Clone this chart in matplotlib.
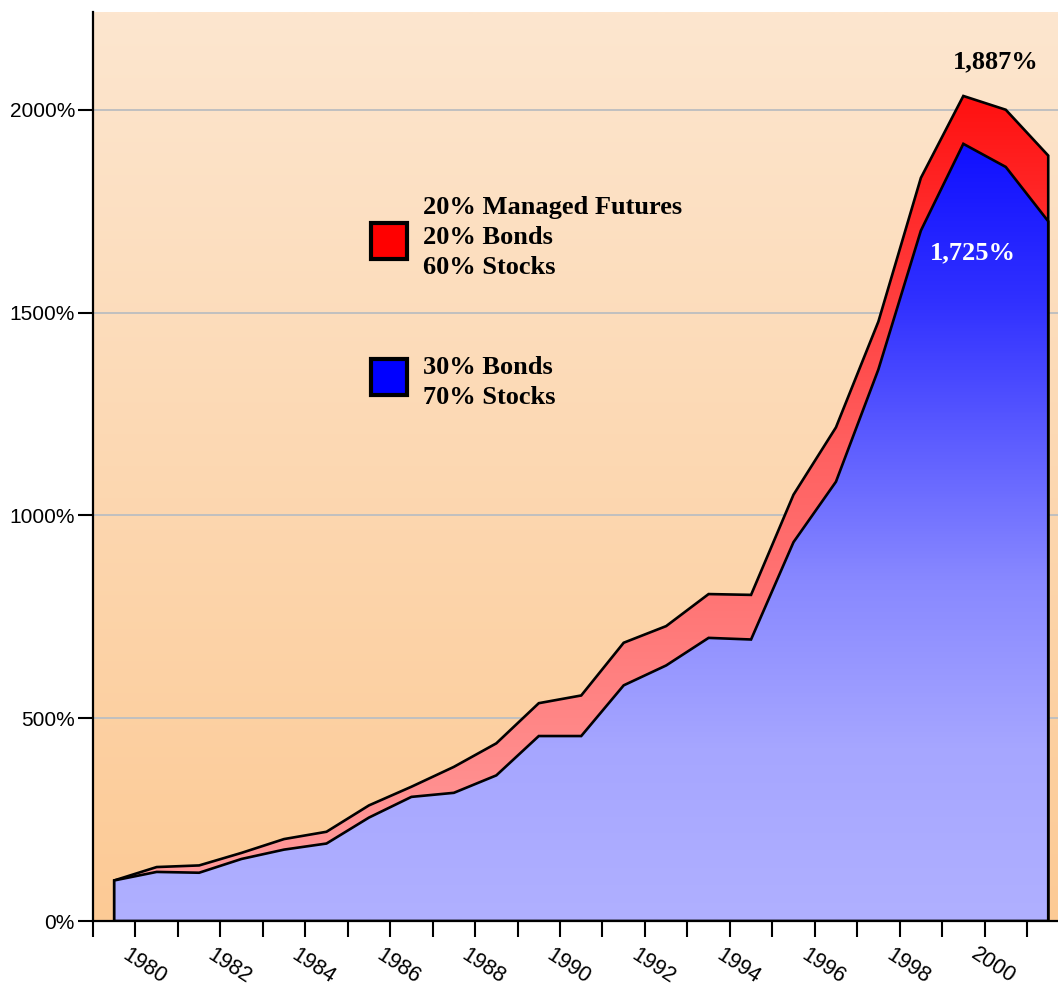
import numpy as np
import matplotlib.pyplot as plt
from matplotlib.colors import LinearSegmentedColormap
from matplotlib.patches import Polygon, Rectangle

years = list(range(1979, 2002))
with_futures = [100, 133, 137, 168, 202, 220, 285, 331, 380, 438, 537, 556,
                686, 727, 806, 804, 1051, 1217, 1478, 1832, 2034, 2000, 1887]
stocks_bonds = [100, 121, 119, 153, 176, 191, 255, 306, 316, 359, 456, 456,
                581, 630, 698, 694, 934, 1083, 1360, 1702, 1916, 1859, 1725]
y_ticks = [0, 500, 1000, 1500, 2000]
legend_red = ["20% Managed Futures", "20% Bonds", "60% Stocks"]
legend_blue = ["30% Bonds", "70% Stocks"]

W, H = 1058, 988
fig = plt.figure(figsize=(W / 100, H / 100), dpi=100)
ax = fig.add_axes([93 / W, (H - 921) / H, (W - 93) / W, (921 - 12) / H])

x = np.arange(len(years))
xmin, xmax = -0.5, 22.23
ymax = 2241
ax.set_xlim(xmin, xmax)
ax.set_ylim(0, ymax)


def gradient(cmap_nodes, zorder, clip=None):
    cmap = LinearSegmentedColormap.from_list("g", cmap_nodes)
    vals = np.linspace(0, 1, 512).reshape(-1, 1)
    im = ax.imshow(vals, cmap=cmap, vmin=0, vmax=1, origin="lower", aspect="auto",
                   extent=[xmin, xmax, 0, ymax], zorder=zorder, interpolation="bilinear")
    if clip is not None:
        im.set_clip_path(clip)
    return im


# background
gradient([(0, "#fcca95"), (1, "#fde6cf")], zorder=-1)


def area(values, nodes, zorder):
    verts = [(x[0], 0)] + list(zip(x, values)) + [(x[-1], 0)]
    poly = Polygon(verts, closed=True, facecolor="none", edgecolor="black",
                   linewidth=1.9, joinstyle="miter", zorder=zorder + 0.1)
    ax.add_patch(poly)
    gradient(nodes, zorder, clip=poly)


top = ymax
area(with_futures,
     [(0, "#ffa0a0"), (138 / top, "#ff9999"), (537 / top, "#ff8484"),
      (1166 / top, "#ff6060"), (2034 / top, "#ff1010"), (1, "#ff1010")], 1)
area(stocks_bonds,
     [(0, "#b0b0ff"), (422 / top, "#a6a6ff"), (841 / top, "#8888ff"),
      (1531 / top, "#3030ff"), (1916 / top, "#1010ff"), (1, "#1010ff")], 2)

# axes styling
for s in ["top", "right"]:
    ax.spines[s].set_visible(False)
for s in ["left", "bottom"]:
    ax.spines[s].set_linewidth(1.6)
    ax.spines[s].set_zorder(5)

ax.set_yticks(y_ticks)
ax.set_yticklabels([f"{v}%" for v in y_ticks], fontsize=15, family="Liberation Sans")
ax.yaxis.grid(True, color="#c0c0c0", linewidth=1.4)
ax.set_axisbelow(True)
ax.tick_params(axis="y", length=11, width=1.5, pad=2)

ax.set_xticks(np.arange(-0.5, 22, 1))
ax.set_xticklabels([])
ax.tick_params(axis="x", length=11.5, width=1.5)
for i, yr in enumerate(years):
    if yr % 2 == 0:
        ax.text(i - 0.3, -0.0495, str(yr), transform=ax.get_xaxis_transform(),
                rotation=-33, ha="center", va="center", fontsize=15.5,
                family="Liberation Sans")

# end labels
px_per_pct = 0.4055
ax.text(x[-1] - 1.23, (921 - 62) / px_per_pct, f"{with_futures[-1]:,}%",
        fontsize=19, family="Liberation Serif", weight="bold",
        ha="center", va="center", zorder=6)
ax.text(x[-1] - 1.77, (921 - 253) / px_per_pct, f"{stocks_bonds[-1]:,}%",
        color="white", fontsize=19, family="Liberation Serif", weight="bold",
        ha="center", va="center", zorder=6)


# legend
def legend_block(color, lines, box_top, first_line_y):
    fig.patches.append(Rectangle((371 / W, 1 - (box_top + 38) / H), 36 / W, 36 / H,
                                 facecolor=color, edgecolor="black", linewidth=3,
                                 transform=fig.transFigure, figure=fig, zorder=10))
    for k, line in enumerate(lines):
        fig.text(423 / W, 1 - (first_line_y + 30 * k) / H, line, fontsize=19,
                 family="Liberation Serif", weight="bold", ha="left",
                 va="center_baseline", zorder=10)


legend_block("#ff0000", legend_red, 221, 205)
legend_block("#0000ff", legend_blue, 357, 365)

fig.savefig("out.png", dpi=100)
